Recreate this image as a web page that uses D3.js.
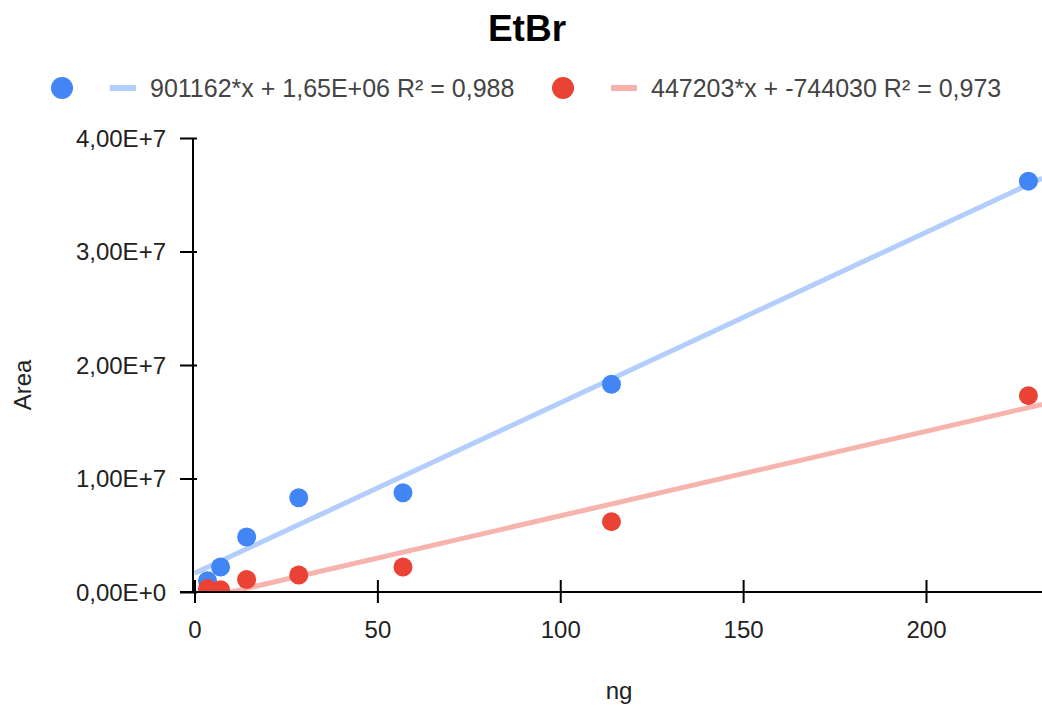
<!DOCTYPE html>
<html>
<head>
<meta charset="utf-8">
<script src="https://cdn.jsdelivr.net/npm/d3@7"></script>
<style>
  body { margin: 0; background: #fff; }
  svg { display: block; font-family: "Liberation Sans", Arial, sans-serif; }
</style>
</head>
<body>
<div id="chart"></div>
<script>
// data
var ngValues = [3.5625, 7.125, 14.25, 28.5, 57, 114, 228];
var blueArea = [1.0e6, 2.2e6, 4.85e6, 8.3e6, 8.75e6, 1.83e7, 3.62e7];
var redArea = [0.3e6, 0.2e6, 1.1e6, 1.5e6, 2.2e6, 6.2e6, 1.73e7];

// trendlines (slope per ng as drawn, intercept)
var blueTrend = [150200, 1.65e6];
var redTrend = [74530, -744030];

var legendLabels = ["901162*x + 1,65E+06 R\u00b2 = 0,988", "447203*x + -744030 R\u00b2 = 0,973"];
var xTicks = [0, 50, 100, 150, 200];
var yTicks = [0, 1e7, 2e7, 3e7, 4e7];
var yTickLabels = ["0,00E+0", "1,00E+7", "2,00E+7", "3,00E+7", "4,00E+7"];

var w = 1042, h = 709;
var svg = d3.select("#chart").append("svg").attr("width", w).attr("height", h);

var x = d3.scaleLinear().domain([0, 200]).range([194.5, 926]);
var y = d3.scaleLinear().domain([0, 4e7]).range([592, 138]);
var xMax = x.invert(w);

svg.append("defs").append("clipPath").attr("id", "plot")
  .append("rect").attr("x", 194).attr("y", 100).attr("width", w - 194).attr("height", 492);

// title
svg.append("text").attr("x", 527).attr("y", 41).attr("text-anchor", "middle")
  .style("font-size", "37px").style("font-weight", "bold").attr("fill", "#000").text("EtBr");

// trendlines
var series = [
  {vals: blueArea, trend: blueTrend, dot: "#4285f4", line: "#b3cefb", label: legendLabels[0]},
  {vals: redArea, trend: redTrend, dot: "#ea4335", line: "#f7b4ae", label: legendLabels[1]}
];

var g = svg.append("g").attr("clip-path", "url(#plot)");
var line = d3.line().x(function(d){ return x(d[0]); }).y(function(d){ return y(d[1]); });
series.forEach(function(s){
  var pts = [0, xMax].map(function(v){ return [v, s.trend[0] * v + s.trend[1]]; });
  g.append("path").attr("d", line(pts)).attr("stroke", s.line)
    .attr("stroke-width", 5).attr("fill", "none");
});
series.forEach(function(s){
  g.selectAll(null).data(ngValues).enter().append("circle")
    .attr("cx", function(d){ return x(d); })
    .attr("cy", function(d, i){ return y(s.vals[i]); })
    .attr("r", 9.5).attr("fill", s.dot);
});

// axes
var xAxis = svg.append("g").attr("transform", "translate(0,592)")
  .call(d3.axisBottom(x).tickValues(xTicks).tickSize(0).tickPadding(0).tickFormat(d3.format("d")));
xAxis.select(".domain").remove();
xAxis.selectAll(".tick text").attr("y", 46).attr("dy", 0);
xAxis.selectAll(".tick").append("line").attr("y1", -12).attr("y2", 11).attr("stroke", "#000").attr("stroke-width", 2);
xAxis.append("line").attr("x1", 180).attr("x2", w).attr("stroke", "#000").attr("stroke-width", 2);

var yAxis = svg.append("g")
  .call(d3.axisLeft(y).tickValues(yTicks).tickSize(0).tickFormat(function(d, i){ return yTickLabels[i]; }));
yAxis.select(".domain").remove();
yAxis.selectAll(".tick text").attr("x", 166).attr("dy", "0.35em");
yAxis.selectAll(".tick").append("line").attr("x1", 180).attr("x2", 197).attr("stroke", "#000").attr("stroke-width", 2);
yAxis.append("line").attr("x1", 193).attr("x2", 193).attr("y1", 138).attr("y2", 593).attr("stroke", "#000").attr("stroke-width", 2);

svg.selectAll(".tick text").style("font-size", "24px").attr("fill", "#222").attr("font-family", "Liberation Sans, Arial, sans-serif");

// axis titles
svg.append("text").attr("x", 619).attr("y", 699).attr("text-anchor", "middle")
  .style("font-size", "24px").attr("fill", "#222").text("ng");
svg.append("text").attr("transform", "translate(31,385) rotate(-90)").attr("text-anchor", "middle")
  .style("font-size", "24px").attr("fill", "#222").text("Area");

// legend
var legX = [62, 563];
series.forEach(function(s, i){
  var lg = svg.append("g").attr("transform", "translate(" + legX[i] + ",88)");
  lg.append("circle").attr("r", 11).attr("fill", s.dot);
  lg.append("rect").attr("x", 48).attr("y", -3).attr("width", 26).attr("height", 6).attr("fill", s.line);
  lg.append("text").attr("x", 88).attr("y", 9).style("font-size", "25px").attr("fill", "#444").text(s.label);
});
</script>
</body>
</html>
